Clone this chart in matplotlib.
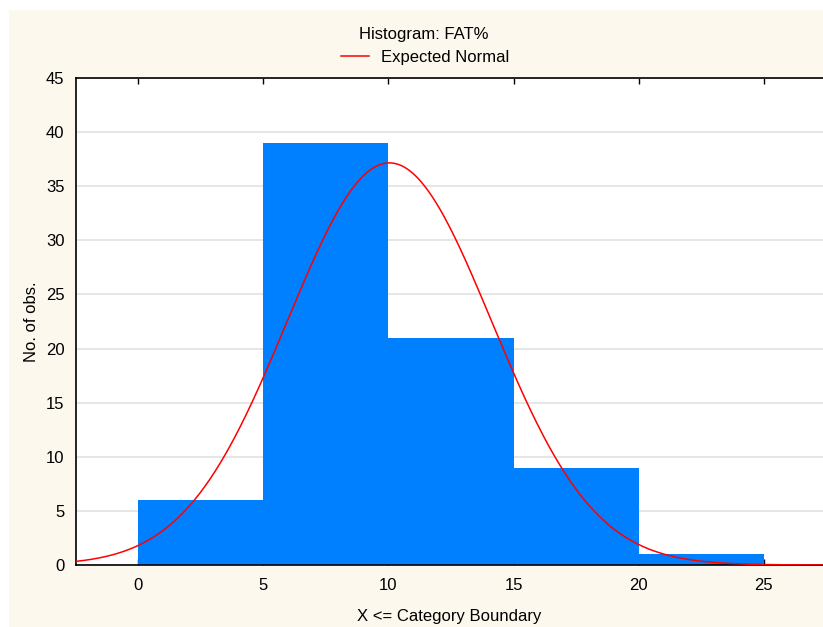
import numpy as np
import matplotlib
matplotlib.use("Agg")
import matplotlib.pyplot as plt
from matplotlib.patches import Rectangle

plt.rcParams['font.family'] = ['Liberation Sans', 'DejaVu Sans']

# Histogram of FAT% (class width 5)
bin_edges = [0, 5, 10, 15, 20, 25]
counts = [6, 39, 21, 9, 1]
# Parameters of the fitted normal distribution
fit_mean = 10.04
fit_sd = 4.08

x_ticks = [0, 5, 10, 15, 20, 25]
y_ticks = [0, 5, 10, 15, 20, 25, 30, 35, 40, 45]

W, H = 823, 627
FS = 12
fig = plt.figure(figsize=(W / 100, H / 100), dpi=100)
fig.patch.set_facecolor('white')
# beige panel behind the chart
fig.patches.append(Rectangle((9 / W, 0), 1, 1 - 10 / H, transform=fig.transFigure,
                             facecolor='#FDF8EE', edgecolor='none', zorder=-5))

left, right, top, bottom = 75.5, 823, 78, 565
ax = fig.add_axes([left / W, 1 - bottom / H, (right - left) / W, (bottom - top) / H])
ax.set_facecolor('white')

widths = np.diff(bin_edges)
ax.bar(bin_edges[:-1], counts, width=widths, align='edge', color='#0080FF',
       edgecolor='none', zorder=2)

n = sum(counts)
binw = widths[0]
xs = np.linspace(-2.5, 27.5, 600)
ys = n * binw / (fit_sd * np.sqrt(2 * np.pi)) * np.exp(-0.5 * ((xs - fit_mean) / fit_sd) ** 2)
line, = ax.plot(xs, ys, color='#FF0000', lw=1.1, zorder=3)

ax.set_xlim(-2.5, 27.36)
ax.set_ylim(0, 45)
ax.set_xticks(x_ticks)
ax.set_yticks(y_ticks)
ax.yaxis.grid(True, color='#E2E2E2', lw=1.2, zorder=1)
ax.set_axisbelow(True)

for s in ['top', 'bottom', 'left']:
    ax.spines[s].set_color('black')
    ax.spines[s].set_linewidth(1.2)
ax.spines['right'].set_visible(False)

ax.tick_params(axis='x', direction='in', length=4, width=1, top=True, pad=9,
               labelsize=FS)
ax.tick_params(axis='y', direction='in', length=0, pad=8, labelsize=FS)

ax.set_xlabel('X <= Category Boundary', fontsize=FS, labelpad=12)
ax.set_ylabel('No. of obs.', fontsize=FS, labelpad=5)

fig.text(424 / W, 1 - 34 / H, 'Histogram: FAT%', ha='center', va='center', fontsize=FS)
leg = fig.legend([line], ['Expected Normal'], loc='center',
                 bbox_to_anchor=(425 / W, 1 - 57.5 / H), frameon=False,
                 fontsize=FS, handlelength=1.7, handletextpad=0.7)

fig.savefig('out.png', dpi=100, facecolor=fig.get_facecolor())
